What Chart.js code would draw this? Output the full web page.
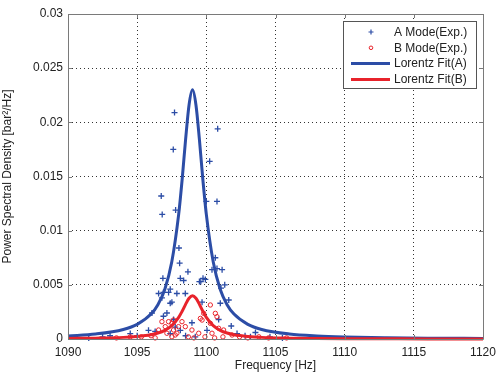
<!DOCTYPE html>
<html>
<head>
<meta charset="utf-8">
<script src="https://cdn.jsdelivr.net/npm/chart.js@4.4.0/dist/chart.umd.min.js"></script>
<style>
  html, body { margin: 0; padding: 0; background: #fff; }
  #wrap { width: 503px; height: 375px; position: relative; }
</style>
</head>
<body>
<div id="wrap"><canvas id="psdChart"></canvas></div>
<script>
// Frequency ticks and PSD ticks
const xTicks = [1090, 1095, 1100, 1105, 1110, 1115, 1120];
const yTicks = [0, 0.005, 0.01, 0.015, 0.02, 0.025, 0.03];

// A mode measured points
const aModeFreq = [1097.70, 1100.82, 1097.61, 1100.24, 1096.74, 1100.00, 1100.77, 1097.78, 1096.81, 1098.02,
    1098.07, 1098.67, 1096.86, 1098.12, 1098.36, 1097.39, 1099.50, 1100.65, 1100.41, 1100.77,
    1101.14, 1099.76, 1099.93, 1099.60, 1101.33, 1101.06, 1096.55, 1096.90, 1097.27, 1096.79,
    1097.39, 1096.07, 1096.90, 1097.15, 1097.63, 1095.82, 1096.30, 1094.50, 1093.04, 1097.39,
    1097.75, 1097.87, 1098.48, 1097.51, 1099.69, 1101.01, 1101.62, 1098.96, 1100.89, 1102.22,
    1103.19, 1100.05, 1098.12, 1103.55, 1104.60, 1091.50, 1092.50, 1095.00, 1102.80, 1105.50,
    1099.20, 1098.50, 1101.80];
const aModeVal = [0.0209, 0.0194, 0.0175, 0.0164, 0.0132, 0.0127, 0.0127, 0.0119, 0.0115, 0.0084,
    0.0070, 0.0062, 0.0056, 0.0056, 0.0054, 0.0046, 0.0053, 0.0075, 0.0064, 0.0065,
    0.0064, 0.0056, 0.0055, 0.0053, 0.0050, 0.0047, 0.0042, 0.0043, 0.0043, 0.0038,
    0.0033, 0.0024, 0.0021, 0.0024, 0.0018, 0.0008, 0.0007, 0.0005, 0.0003, 0.0005,
    0.0011, 0.0042, 0.0042, 0.0034, 0.0034, 0.0033, 0.0036, 0.0015, 0.0018, 0.0005,
    0.0002, 0.0008, 0.0008, 0.0006, 0.0002, 0.0001, 0.0002, 0.0003, 0.0003, 0.0001,
    0.0002, 0.0003, 0.0012];

// B mode measured points
const bModeFreq = [1096.79, 1097.27, 1097.51, 1097.03, 1096.55, 1097.63, 1097.15, 1097.87, 1097.51, 1100.29,
    1099.81, 1100.65, 1097.63, 1098.24, 1099.69, 1100.29, 1098.48, 1097.99, 1098.96, 1100.89,
    1101.25, 1099.45, 1100.41, 1097.75, 1101.86, 1100.77, 1099.57,
    1093.5, 1094.5, 1095.3, 1096.0, 1096.3, 1098.7, 1099.1, 1099.9, 1100.6, 1101.2,
    1102.4, 1103.0, 1103.8, 1104.5, 1105.8];
const bModeVal = [0.0016, 0.0016, 0.00145, 0.00114, 0.00083, 0.00083, 0.00053, 0.00053, 0.00021, 0.00314,
    0.00237, 0.00237, 0.00175, 0.0016, 0.00175, 0.00145, 0.00114, 0.00114, 0.00083, 0.00099,
    0.00083, 0.00053, 0.00053, 0.00037, 0.00037, 0.00206, 0.0019,
    0.0001, 0.0002, 0.0002, 0.0003, 0.0001, 0.0002, 0.0001, 0.0002, 0.0001, 0.0002,
    0.0002, 0.0001, 0.0002, 0.0001, 0.0001];

// Lorentz fit curves
const fitFreq = [1090, 1092, 1094, 1095, 1096, 1096.5, 1097, 1097.5, 1098, 1098.25, 1098.5, 1098.75, 1099,
    1099.25, 1099.5, 1099.75, 1100, 1100.5, 1101, 1101.5, 1102, 1103, 1104, 1106, 1108, 1110, 1113, 1116, 1120];
const fitA = [0.00028, 0.00046, 0.00088, 0.00135, 0.0023, 0.00317, 0.0046, 0.0071, 0.0115, 0.0147, 0.0184, 0.0216, 0.023,
    0.0216, 0.0184, 0.0147, 0.0115, 0.0071, 0.0046, 0.00317, 0.0023, 0.00135, 0.00088, 0.00046, 0.00028, 0.00019, 0.00012, 0.00008, 0.00005];
const fitB = [0.00005, 0.00008, 0.00015, 0.00024, 0.0004, 0.00055, 0.0008, 0.00123, 0.002, 0.00256, 0.0032, 0.00376, 0.004,
    0.00376, 0.0032, 0.00256, 0.002, 0.00123, 0.0008, 0.00055, 0.0004, 0.00024, 0.00015, 0.00008, 0.00005, 0.00003, 0.00002, 0.00001, 0.00001];

const BLUE = '#2c4da6';
const RED = '#e8232b';

const toXY = (xs, ys) => xs.map((x, i) => ({ x, y: ys[i] }));

// box, inner ticks and legend, matlab style
const framePlugin = {
    id: 'frame',
    afterDraw(chart) {
        const { ctx, chartArea: a, scales } = chart;
        ctx.save();
        ctx.strokeStyle = '#7a7a7a';
        ctx.lineWidth = 1;
        ctx.setLineDash([]);
        ctx.beginPath();
        ctx.rect(a.left + 0.5, a.top + 0.5, a.right - a.left, a.bottom - a.top);
        ctx.stroke();
        ctx.beginPath();
        xTicks.forEach(t => {
            const x = Math.round(scales.x.getPixelForValue(t)) + 0.5;
            ctx.moveTo(x, a.bottom); ctx.lineTo(x, a.bottom - 4);
            ctx.moveTo(x, a.top); ctx.lineTo(x, a.top + 4);
        });
        yTicks.forEach(t => {
            const y = Math.round(scales.y.getPixelForValue(t)) + 0.5;
            ctx.moveTo(a.left, y); ctx.lineTo(a.left + 4, y);
            ctx.moveTo(a.right, y); ctx.lineTo(a.right - 4, y);
        });
        ctx.stroke();

        // legend
        const lx = 343, ly = 21, lw = 133, lh = 67;
        ctx.fillStyle = '#fff';
        ctx.fillRect(lx, ly, lw, lh);
        ctx.strokeStyle = '#555';
        ctx.strokeRect(lx + 0.5, ly + 0.5, lw, lh);
        const rows = [
            { label: 'A Mode(Exp.)', kind: 'cross', color: BLUE },
            { label: 'B Mode(Exp.)', kind: 'circle', color: RED },
            { label: 'Lorentz Fit(A)', kind: 'line', color: BLUE },
            { label: 'Lorentz Fit(B)', kind: 'line', color: RED }
        ];
        ctx.font = '12px "Liberation Sans", Arial, sans-serif';
        ctx.textBaseline = 'middle';
        rows.forEach((r, i) => {
            const cy = ly + 11 + i * 15.8;
            const cx = 371;
            ctx.strokeStyle = r.color;
            if (r.kind === 'cross') {
                ctx.lineWidth = 1.2;
                ctx.beginPath();
                ctx.moveTo(cx - 2.5, cy); ctx.lineTo(cx + 2.5, cy);
                ctx.moveTo(cx, cy - 2.5); ctx.lineTo(cx, cy + 2.5);
                ctx.stroke();
            } else if (r.kind === 'circle') {
                ctx.lineWidth = 1;
                ctx.beginPath();
                ctx.arc(cx, cy, 1.8, 0, Math.PI * 2);
                ctx.stroke();
            } else {
                ctx.lineWidth = 3;
                ctx.beginPath();
                ctx.moveTo(351, cy); ctx.lineTo(390, cy);
                ctx.stroke();
            }
            ctx.fillStyle = '#222';
            ctx.fillText(r.label, 394, cy + 0.5);
        });
        ctx.restore();
    }
};

const ctx = document.getElementById('psdChart').getContext('2d');
new Chart(ctx, {
    type: 'scatter',
    data: {
        datasets: [
            {
                label: 'Lorentz Fit(B)',
                data: toXY(fitFreq, fitB),
                showLine: true,
                borderColor: RED,
                borderWidth: 3,
                pointRadius: 0,
                cubicInterpolationMode: 'monotone',
                clip: 3
            },
            {
                label: 'Lorentz Fit(A)',
                data: toXY(fitFreq, fitA),
                showLine: true,
                borderColor: BLUE,
                borderWidth: 3,
                pointRadius: 0,
                cubicInterpolationMode: 'monotone',
                clip: 3
            },
            {
                label: 'B Mode(Exp.)',
                data: toXY(bModeFreq, bModeVal),
                pointStyle: 'circle',
                pointRadius: 2.2,
                borderWidth: 1,
                borderColor: RED,
                backgroundColor: 'rgba(0,0,0,0)',
                clip: 3
            },
            {
                label: 'A Mode(Exp.)',
                data: toXY(aModeFreq, aModeVal),
                pointStyle: 'cross',
                pointRadius: 3,
                borderWidth: 1.3,
                borderColor: BLUE,
                clip: 3
            }
        ]
    },
    options: {
        responsive: true,
        maintainAspectRatio: false,
        animation: false,
        layout: { padding: { top: 14, right: 20, left: 0, bottom: 0 } },
        plugins: {
            legend: { display: false },
            tooltip: { enabled: false }
        },
        scales: {
            x: {
                type: 'linear',
                min: 1090,
                max: 1120,
                afterBuildTicks(scale) { scale.ticks = xTicks.map(v => ({ value: v })); },
                afterFit(scale) { scale.height = 36; },
                grid: { color: '#333', drawTicks: false, lineWidth: 1 },
                border: { display: false, dash: [1, 3] },
                ticks: {
                    padding: 6,
                    color: '#222',
                    font: { family: '"Liberation Sans", Arial, sans-serif', size: 12 },
                    maxRotation: 0,
                    callback: v => String(v)
                },
                title: {
                    display: true,
                    text: 'Frequency [Hz]',
                    color: '#222',
                    font: { family: '"Liberation Sans", Arial, sans-serif', size: 12 },
                    padding: { top: 0, bottom: 2 }
                }
            },
            y: {
                type: 'linear',
                min: 0,
                max: 0.03,
                afterBuildTicks(scale) { scale.ticks = yTicks.map(v => ({ value: v })); },
                afterFit(scale) { scale.width = 68; },
                grid: { color: '#333', drawTicks: false, lineWidth: 1 },
                border: { display: false, dash: [1, 3] },
                ticks: {
                    padding: 5,
                    color: '#222',
                    font: { family: '"Liberation Sans", Arial, sans-serif', size: 12 },
                    callback: v => String(v)
                },
                title: {
                    display: true,
                    text: 'Power Spectral Density [bar²/Hz]',
                    color: '#222',
                    font: { family: '"Liberation Sans", Arial, sans-serif', size: 12 },
                    padding: { top: 0, bottom: 10 }
                }
            }
        }
    },
    plugins: [framePlugin]
});
</script>
</body>
</html>
